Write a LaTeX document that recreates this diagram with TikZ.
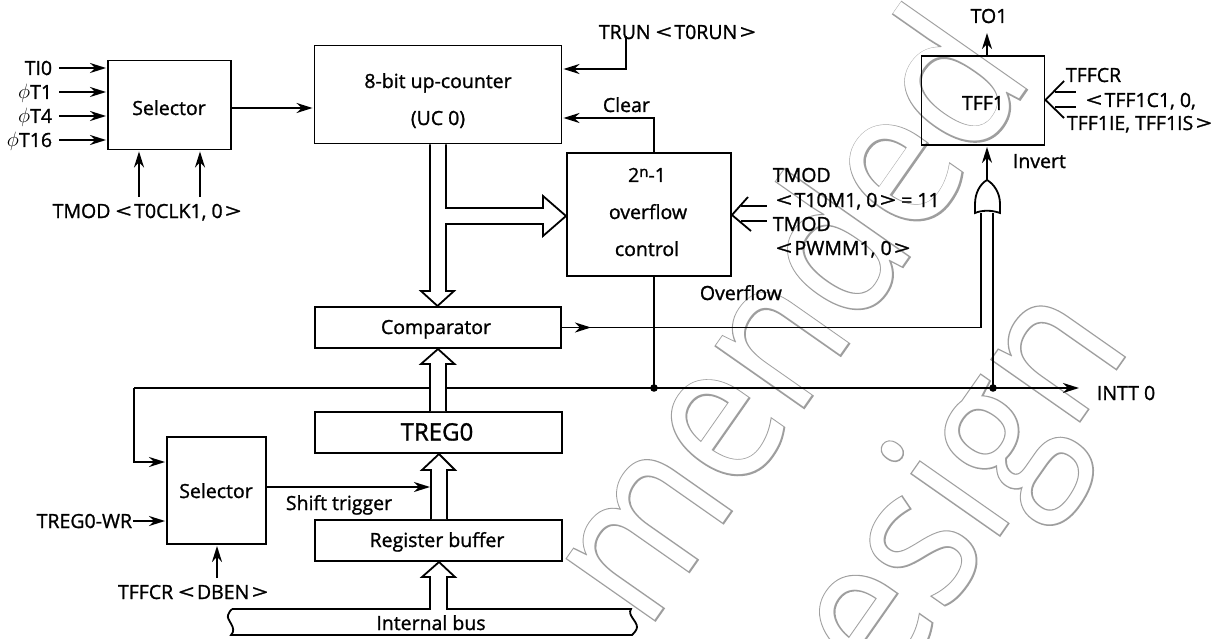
\documentclass[tikz,border=0pt]{standalone}
\usepackage{graphicx}
\usepackage{fontspec}
\setmainfont[FakeBold=1.2]{Open Sans}
\newfontfamily\wmstroke[FakeBold=1.5]{Open Sans}
\newfontfamily\wmfill{Open Sans}
\usetikzlibrary{arrows.meta}
\newcommand\dg{\fontsize{19.5}{22}\selectfont}
\newcommand\LT{\scalebox{1.45}[1]{<}\hspace{2.5pt}}
\newcommand\GT{\hspace{2.5pt}\scalebox{1.45}[1]{>}}
\definecolor{wmgray}{gray}{0.62}
\tikzset{
  x=1pt,y=-1pt,
  boxn/.style={draw=black,line width=1.9pt,inner sep=0pt,align=center,font=\dg},
  lbl/.style={inner sep=0pt,font=\dg,text height=14pt,text depth=0pt},
  tip/.style={-{Stealth[length=16pt,width=10pt,inset=5pt]}},
  arr/.style={tip,shorten >=1pt},
  holl/.style={draw=black,fill=white,line width=1.8pt,line join=miter},
  wmtxt/.style={rotate=55,anchor=base west,inner sep=0pt}
}
\begin{document}
\begin{tikzpicture}[line width=1.8pt]
\useasboundingbox (0,0) rectangle (1222,639);
% watermark outline
\begin{scope}
\clip (0,0) rectangle (1222,639);
\node[wmtxt,text=wmgray] (wa) at (646,633) {\scalebox{.87}[1]{\fontsize{200}{200}\wmstroke mended}};
\node[wmtxt,text=white] (wb) at (646,633) {\scalebox{.87}[1]{\fontsize{200}{200}\wmfill mended}};
\node[wmtxt,text=wmgray] (wc) at (887,696) {\scalebox{.87}[1]{\fontsize{200}{200}\wmstroke esign}};
\node[wmtxt,text=white] (wd) at (887,696) {\scalebox{.87}[1]{\fontsize{200}{200}\wmfill esign}};
\end{scope}
% boxes
\node[boxn,minimum width=123pt,minimum height=89pt] (sel1) at (169.5,105) {};
\node[lbl] (sel1t) at (169,108) {Selector};
\node[boxn,minimum width=247pt,minimum height=98pt] (uc) at (438,94.5) {};
\node[lbl] (uct1) at (438,81) {8-bit up-counter};
\node[lbl] (uct2) at (438,118) {(UC 0)};
\node[boxn,minimum width=164pt,minimum height=123pt] (ovf) at (649,214.5) {};
\node[lbl] (ovf1) at (647,175) {2\raisebox{5pt}{\fontsize{15}{15}\selectfont n}-1};
\node[lbl] (ovf2) at (648,212) {overflow};
\node[lbl] (ovf3) at (647,249) {control};
\node[boxn,minimum width=246pt,minimum height=41.5pt] (cmp) at (438,327.5) {};
\node[lbl] (cmpt) at (436,327) {Comparator};
\node[boxn,minimum width=247pt,minimum height=41pt] (treg) at (438.5,432.5) {};
\node[lbl,font=\fontsize{24}{26}\selectfont,text height=17pt] (tregt) at (437,432) {TREG0};
\node[boxn,minimum width=247pt,minimum height=41pt] (rb) at (438.5,540.5) {};
\node[lbl] (rbt) at (437,540) {Register buffer};
\node[boxn,minimum width=99pt,minimum height=107pt] (sel2) at (216.5,490.5) {};
\node[lbl] (sel2t) at (216,491) {Selector};
\node[boxn,minimum width=123pt,minimum height=89pt] (tff) at (983,100.5) {};
\node[lbl] (tfft) at (983,103) {TFF1};
% left inputs
\node[lbl,anchor=east] (ti0) at (53,68) {TI0};
\node[lbl,anchor=east] (p1) at (53,92) {$\phi$T1};
\node[lbl,anchor=east] (p4) at (53,116) {$\phi$T4};
\node[lbl,anchor=east] (p16) at (53,140) {$\phi$T16};
\draw[arr] (59,68) -- (ti0 -| sel1.west);
\draw[arr] (59,92) -- (p1 -| sel1.west);
\draw[arr] (59,116) -- (p4 -| sel1.west);
\draw[arr] (59,140) -- (p16 -| sel1.west);
\node[lbl] (tmodc) at (147,211) {TMOD \LT T0CLK1, 0\GT};
\coordinate (c1) at (139,197);
\coordinate (c2) at (200,197);
\draw[arr] (c1) -- (c1 |- sel1.south);
\draw[arr] (c2) -- (c2 |- sel1.south);
\draw[arr] (sel1.east |- sel1t) -- (uc.west |- sel1t);
% TRUN
\node[lbl,anchor=west] (trun) at (598,32) {TRUN \LT T0RUN\GT};
\coordinate (tr) at (626,36);
\draw[arr] (tr) |- (uc.east |- 0,69);
% clear
\node[lbl,anchor=west] (clr) at (602,105) {Clear};
\draw[arr] (ovf.north -| 654,0) |- (uc.east |- 0,118);
% overflow inputs
\node[lbl,anchor=west] (tm1) at (772,175) {TMOD};
\node[lbl,anchor=west] (tm2) at (775,200) {\LT T10M1, 0\GT{} = 11};
\node[lbl,anchor=west] (tm3) at (772,224) {TMOD};
\node[lbl,anchor=west] (tm4) at (775,248) {\LT PWMM1, 0\GT};
\node[lbl,anchor=west] (ovl) at (699,293) {Overflow};
\coordinate (ov) at (ovf.east |- 0,215);
\draw (748,197) -- (ov) -- (751,231);
\draw (741,206) -- (767,206);
\draw (741,221) -- (767,221);
% comparator to gate
\draw (cmp.east) -- (981,327.5) -- (981,213);
\coordinate (midc) at (591,327.5);
\draw[tip] (cmp.east) -- (midc);
% main line
\coordinate (jo) at (654,388);
\coordinate (jg) at (993,388);
\draw (ovf.south -| jo) -- (jo);
\draw (jg) -- (993,213);
\draw[tip] (134,388) -- (1079,388);
\fill (jo) circle (3.8pt);
\fill (jg) circle (3.8pt);
\node[lbl,anchor=west] (intt) at (1096,393) {INTT 0};
% feedback
\draw[arr] (134,388) |- (sel2.west |- 0,462);
\node[lbl,anchor=east] (wr) at (133,521) {TREG0-WR};
\draw[arr] (wr.east) -- (sel2.west |- wr);
\node[lbl] (dben) at (193,592) {TFFCR \LT DBEN\GT};
\coordinate (db) at (217,578);
\draw[arr] (db) -- (db |- sel2.south);
\node[lbl,anchor=west] (shf) at (285,503) {Shift trigger};
\draw[tip] (sel2.east |- 0,487) -- (430,487);
% internal bus
\draw (232,609) -- (631,609) .. controls (627,615) and (637,621) .. (637,627) .. controls (637,630) and (634,633) .. (632,635) -- (231,635) .. controls (238,628) and (226,620) .. (228,615) .. controls (229,612) and (231,610) .. (232,609);
\node[lbl] (bus) at (431,623) {Internal bus};
% hollow arrows
\draw[holl] (430,144.5) -- (430,291) -- (421,291) -- (437.5,306) -- (454,291) -- (446,291) -- (446,224) -- (543,224) -- (543,236) -- (566,216) -- (543,196) -- (543,208) -- (446,208) -- (446,144.5);
\draw[holl] (430,411) -- (430,364) -- (421,364) -- (438,349) -- (454.5,364) -- (446,364) -- (446,411);
\draw[holl] (431,519) -- (431,470) -- (422,470) -- (439,454) -- (455,470) -- (447,470) -- (447,519);
\draw[holl] (430,609.9) -- (430,577) -- (422,577) -- (439,562) -- (455,577) -- (447,577) -- (447,609.9);
% TFF
\node[lbl] (to1) at (989,16) {TO1};
\draw[tip] (tff.north -| 987,0) -- (987,33);
\coordinate (gt) at (987,180);
\draw[arr] (gt) -- (gt |- tff.south);
\node[lbl,anchor=west] (inv) at (1012,161) {Invert};
\draw (gt) .. controls (994,184) and (1000,193) .. (1000,204) -- (1000,213) .. controls (992,210) and (982,210) .. (975,213) -- (975,204) .. controls (975,193) and (980,184) .. (gt);
\node[lbl,anchor=west] (tc) at (1065,75) {TFFCR};
\node[lbl,anchor=west] (tc1) at (1085,100) {\LT TFF1C1, 0,};
\node[lbl,anchor=west] (tc2) at (1066,123) {TFF1IE, TFF1IS\GT};
\coordinate (tv) at (tff.east |- 0,100);
\draw (1064,81) -- (tv) -- (1064,118);
\draw (1055,92) -- (1076,92);
\draw (1055,107) -- (1076,107);
\end{tikzpicture}
\end{document}
